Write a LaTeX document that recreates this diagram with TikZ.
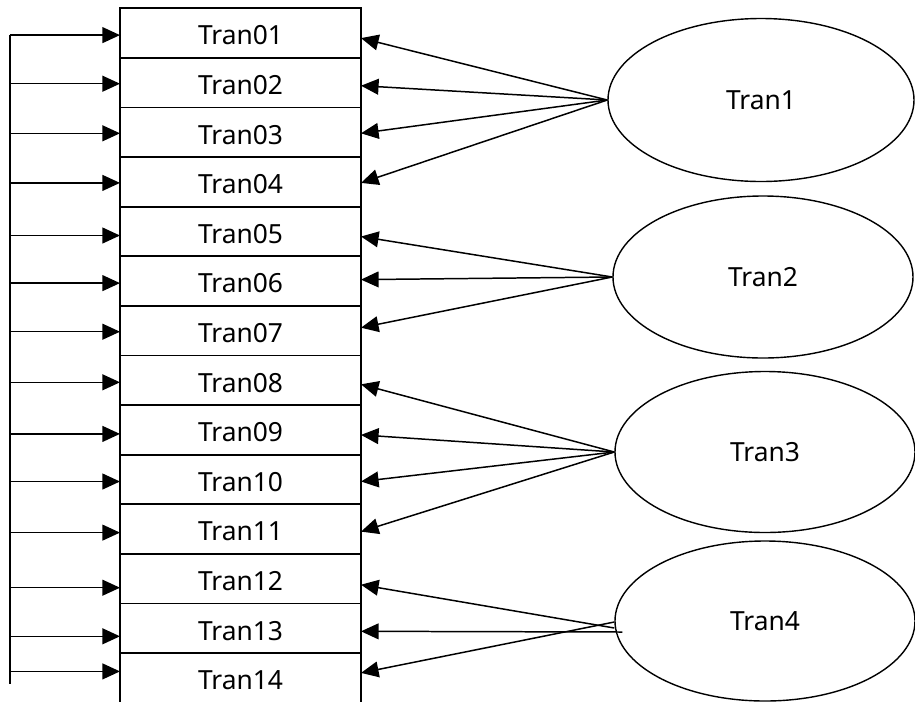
\documentclass[tikz,border=0pt]{standalone}
\usepackage{fontspec}
\setmainfont{Noto Sans}
\usetikzlibrary{positioning}
\usetikzlibrary{arrows.meta}
\usetikzlibrary{shapes.geometric}

\begin{document}
\begin{tikzpicture}[>={Triangle[length=10pt,width=9pt]}]
    \tikzset{row/.style= {draw, rectangle, line width=1.1pt, minimum width=4.82cm, minimum height=0.992cm, inner sep=0pt, outer sep=0pt, text height=13.5pt, text depth=0pt, font=\fontsize{15}{18}\selectfont},
             grp/.style= {draw, ellipse, line width=0.8pt, inner sep=0pt, font=\fontsize{15}{18}\selectfont},
             link/.style= {draw, ->, line width=0.85pt},}
    \useasboundingbox (0,0) rectangle (18.3,-14.02);

    \node [row] (r1) at (4.81,-0.662) {Tran01};
    \foreach \k [remember=\k as \p (initially 1)] in {2,...,14}
        \node [row, below =0pt of r\p] (r\k) {Tran\ifnum\k<10 0\fi\k};

    \node [grp, minimum width=6.12cm, minimum height=3.26cm] (e1) at (15.22,-2.0) {Tran1};
    \node [grp, minimum width=6.0cm, minimum height=3.24cm] (e2) at (15.26,-5.54) {Tran2};
    \node [grp, minimum width=6.0cm, minimum height=3.22cm] (e3) at (15.3,-9.04) {Tran3};
    \node [grp, minimum width=6.0cm, minimum height=3.2cm] (e4) at (15.3,-12.42) {Tran4};

    % left feed line
    \coordinate (lt) at (0.2,-0.7);
    \coordinate (lb) at (0.2,-13.68);
    \draw [line width=0.85pt] (lt) -- (lb);
    \foreach \k/\dy in {1/-0.04,2/-0.02,3/-0.02,4/-0.02,5/-0.08,6/-0.04,7/-0.02,8/-0.04,9/-0.08,10/-0.04,11/-0.07,12/-0.18,13/-0.16,14/0.13}
        \draw [link] ([xshift=-2.2cm,yshift=\dy cm]r\k.west) -- ([yshift=\dy cm]r\k.west);

    % groups to rows
    \foreach \k/\dy in {1/-0.1,2/-0.06,3/-0.02,4/-0.02}
        \draw [link] (e1.west) -- ([yshift=\dy cm]r\k.east);
    \foreach \k/\dy in {5/-0.1,6/0.03,7/0.06}
        \draw [link] (e2.west) -- ([yshift=\dy cm]r\k.east);
    \foreach \k/\dy in {8/-0.08,9/-0.1,10/-0.04,11/-0.05}
        \draw [link] (e3.west) -- ([yshift=\dy cm]r\k.east);
    \draw [link] ([yshift=-0.14cm]e4.west) -- ([yshift=-0.12cm]r12.east);
    \draw [link] ([xshift=0.16cm,yshift=-0.22cm]e4.west) -- ([yshift=-0.06cm]r13.east);
    \draw [link] ([yshift=-0.02cm]e4.west) -- ([yshift=0.1cm]r14.east);
\end{tikzpicture}
\end{document}
